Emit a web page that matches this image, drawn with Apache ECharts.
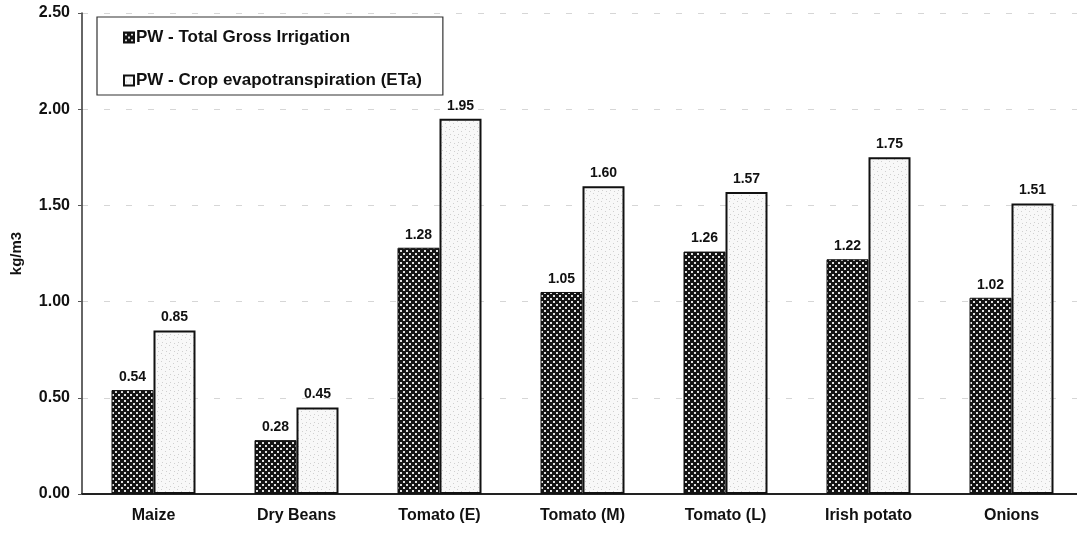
<!DOCTYPE html>
<html><head><meta charset="utf-8">
<script src="https://cdn.jsdelivr.net/npm/echarts@6/dist/echarts.min.js"></script>
<style>html,body{margin:0;padding:0;background:#fff}#c{width:1077px;height:536px}</style>
</head><body><div id="c"></div>
<script>
const categories = ['Maize','Dry Beans','Tomato (E)','Tomato (M)','Tomato (L)','Irish potato','Onions'];
const grossIrrigation = [0.54,0.28,1.28,1.05,1.26,1.22,1.02];
const cropET = [0.85,0.45,1.95,1.60,1.57,1.75,1.51];
const seriesNames = ['PW - Total Gross Irrigation','PW - Crop evapotranspiration (ETa)'];

function darkPattern(){
  const c=document.createElement('canvas');c.width=6;c.height=6;
  const g=c.getContext('2d');
  g.fillStyle='#141414';g.fillRect(0,0,6,6);
  g.fillStyle='#e0e0e0';
  g.fillRect(1,1,2,2);g.fillRect(4,4,2,2);
  return c;
}
function lightPattern(){
  const c=document.createElement('canvas');c.width=8;c.height=8;
  const g=c.getContext('2d');
  g.fillStyle='#f8f8f8';g.fillRect(0,0,8,8);
  g.fillStyle='#d0d0d0';
  g.fillRect(1,1,1,1);g.fillRect(5,3,1,1);g.fillRect(2,6,1,1);g.fillRect(6,7,1,1);
  return c;
}
const ff='"Liberation Sans", Arial, sans-serif';
const chart=echarts.init(document.getElementById('c'),null,{renderer:'canvas'});
chart.setOption({
  animation:false,
  textStyle:{fontFamily:ff},
  grid:{left:82,top:13,width:1001,height:481,containLabel:false,outerBoundsMode:'none'},
  legend:{
    orient:'vertical',left:97,top:17,
    padding:[12,21,6,26],itemGap:26,
    borderColor:'#333',borderWidth:1.2,backgroundColor:'#fff',
    itemWidth:10,itemHeight:10,icon:'rect',
    textStyle:{fontFamily:ff,fontSize:17,fontWeight:'bold',color:'#111',padding:[0,0,0,-3]},
    data:seriesNames
  },
  xAxis:{
    type:'category',data:categories,
    axisLine:{lineStyle:{color:'#222',width:2}},
    axisTick:{show:false},
    axisLabel:{fontFamily:ff,fontSize:16,fontWeight:'bold',color:'#111',margin:14}
  },
  yAxis:{
    type:'value',min:0,max:2.5,interval:0.5,
    name:'kg/m3',nameLocation:'middle',nameGap:58,nameRotate:90,
    nameTextStyle:{fontFamily:ff,fontSize:15,fontWeight:'bold',color:'#111'},
    axisLine:{show:true,lineStyle:{color:'#333',width:1.5}},
    axisTick:{show:true,inside:false,length:4,lineStyle:{color:'#555'}},
    axisLabel:{fontFamily:ff,fontSize:16,fontWeight:'bold',color:'#111',margin:12,
      formatter:v=>v.toFixed(2)},
    splitLine:{show:true,lineStyle:{color:'#d6d6d6',type:[6,16],width:1.2}}
  },
  series:[
    {name:seriesNames[0],type:'bar',data:grossIrrigation,barWidth:42,barGap:'0%',
     itemStyle:{color:{image:darkPattern(),repeat:'repeat'},borderColor:'#111',borderWidth:1},
     label:{show:true,position:'top',distance:6,fontFamily:ff,fontSize:14,fontWeight:'bold',color:'#111',
       formatter:p=>p.value.toFixed(2)}},
    {name:seriesNames[1],type:'bar',data:cropET,barWidth:42,
     itemStyle:{color:{image:lightPattern(),repeat:'repeat'},borderColor:'#111',borderWidth:2},
     label:{show:true,position:'top',distance:6,fontFamily:ff,fontSize:14,fontWeight:'bold',color:'#111',
       formatter:p=>p.value.toFixed(2)}}
  ]
});
</script></body></html>
